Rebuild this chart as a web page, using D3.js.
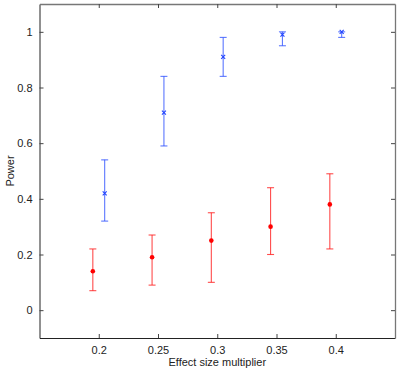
<!DOCTYPE html>
<html>
<head>
<meta charset="utf-8">
<script src="https://cdn.jsdelivr.net/npm/d3@7"></script>
<style>
  body { margin: 0; background: #fff; }
  svg text { font-family: "Liberation Sans", Arial, sans-serif; font-size: 11px; fill: #222; }
</style>
</head>
<body>
<script>
// values
const redX = [0.195, 0.245, 0.295, 0.345, 0.395];
const redY = [0.14, 0.19, 0.25, 0.30, 0.38];
const redLow = [0.07, 0.09, 0.10, 0.20, 0.22];
const redHigh = [0.22, 0.27, 0.35, 0.44, 0.49];

const blueX = [0.205, 0.255, 0.305, 0.355, 0.405];
const blueY = [0.42, 0.71, 0.91, 0.99, 1.0];
const blueLow = [0.32, 0.59, 0.84, 0.95, 0.98];
const blueHigh = [0.54, 0.84, 0.98, 1.0, 1.0];

const xTicks = [0.2, 0.25, 0.3, 0.35, 0.4];
const yTicks = [0, 0.2, 0.4, 0.6, 0.8, 1];

let width = 399,
    height = 371,
    margin = {left: 39.5, right: 4, top: 4, bottom: 33},
    capW = 3.5;

let svg = d3.select("body").append("svg")
    .attr("width", width)
    .attr("height", height);

let xScale = d3.scaleLinear()
    .domain([0.15, 0.45])
    .range([margin.left, width - margin.right]);
let yScale = d3.scaleLinear()
    .domain([-0.1, 1.1])
    .range([height - margin.bottom, margin.top]);

// axes, ticks pointing inward
let fmt = d => d === 0 || d === 1 ? String(d) : d3.format("")(d);
svg.append("g")
    .attr("transform", "translate(0," + yScale(-0.1) + ")")
    .call(d3.axisBottom(xScale).tickValues(xTicks).tickSizeInner(-4).tickSizeOuter(0).tickPadding(8).tickFormat(fmt));
svg.append("g")
    .attr("transform", "translate(" + xScale(0.15) + ",0)")
    .call(d3.axisLeft(yScale).tickValues(yTicks).tickSizeInner(-4).tickSizeOuter(0).tickPadding(7).tickFormat(fmt));
svg.append("g")
    .attr("class", "mirror")
    .attr("transform", "translate(0," + yScale(1.1) + ")")
    .call(d3.axisTop(xScale).tickValues(xTicks).tickSizeInner(-4).tickSizeOuter(0).tickFormat(""));
svg.append("g")
    .attr("class", "mirror")
    .attr("transform", "translate(" + xScale(0.45) + ",0)")
    .call(d3.axisRight(yScale).tickValues(yTicks).tickSizeInner(-4).tickSizeOuter(0).tickFormat(""));
svg.selectAll(".domain").attr("stroke", "#222");
svg.selectAll(".mirror .domain").attr("stroke", "#777").attr("stroke-width", 1.3);
svg.selectAll(".tick line").attr("stroke", "#444");
svg.selectAll(".tick text").style("font-size", "11px").attr("fill", "#222");

// labels
svg.append("text")
    .attr("x", (xScale(0.15) + xScale(0.45)) / 2)
    .attr("y", 366)
    .attr("text-anchor", "middle")
    .text("Effect size multiplier");
svg.append("text")
    .attr("transform", "translate(14," + (yScale(-0.1) + yScale(1.1)) / 2 + ") rotate(-90)")
    .attr("text-anchor", "middle")
    .text("Power");

const drawBars = (xs, ys, lo, hi, color, g) => {
    xs.forEach((x, i) => {
        let cx = xScale(x);
        g.append("line").attr("x1", cx).attr("x2", cx)
            .attr("y1", yScale(lo[i])).attr("y2", yScale(hi[i]));
        [lo[i], hi[i]].forEach(v => g.append("line")
            .attr("x1", cx - capW).attr("x2", cx + capW)
            .attr("y1", yScale(v)).attr("y2", yScale(v)));
    });
    g.attr("stroke", color).attr("stroke-width", 1.1).attr("stroke-opacity", 0.8);
};

let red = svg.append("g");
drawBars(redX, redY, redLow, redHigh, "#ff2020", red.append("g"));
red.selectAll("circle")
    .data(redY)
    .enter()
    .append("circle")
        .attr("cx", (d, i) => xScale(redX[i]))
        .attr("cy", d => yScale(d))
        .attr("r", 2.3)
        .attr("fill", "#ff0000");

let blue = svg.append("g");
drawBars(blueX, blueY, blueLow, blueHigh, "#3355ff", blue.append("g"));
blue.selectAll("path.mark")
    .data(blueY)
    .enter()
    .append("path")
        .classed("mark", true)
        .attr("d", (d, i) => {
            let cx = xScale(blueX[i]), cy = yScale(d), s = 2;
            return "M" + (cx - s) + "," + (cy - s) + "L" + (cx + s) + "," + (cy + s) +
                "M" + (cx - s) + "," + (cy + s) + "L" + (cx + s) + "," + (cy - s);
        })
        .attr("stroke", "#2244ff")
        .attr("stroke-width", 1.1);
</script>
</body>
</html>
